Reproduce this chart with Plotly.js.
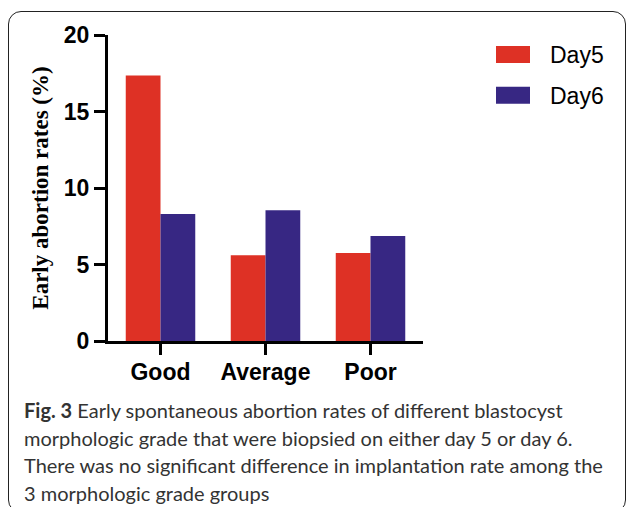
<!DOCTYPE html>
<html>
<head>
<meta charset="utf-8">
<script src="https://cdn.plot.ly/plotly-3.0.1.min.js"></script>
<style>
  html, body { margin: 0; padding: 0; background: #fff; overflow: hidden; }
  #wrap { position: relative; width: 629px; height: 507px; }
  #chart { position: absolute; left: 0; top: 0; width: 629px; height: 507px; }
  #frame { position: absolute; left: 8px; top: 11px; width: 616px; height: 500px;
           border: 1.6px solid #222; border-radius: 13px; pointer-events: none; }
</style>
</head>
<body>
<div id="wrap">
  <div id="chart"></div>
  <div id="frame"></div>
</div>
<script>
const categories = ["Good", "Average", "Poor"];
const day5 = [17.35, 5.6, 5.75];
const day6 = [8.3, 8.55, 6.87];
const seriesNames = ["Day5", "Day6"];
const yTicks = [0, 5, 10, 15, 20];
const yTitle = "Early abortion rates (%)";
const captionLines = [
  "<b>Fig. 3</b> Early spontaneous abortion rates of different blastocyst",
  "morphologic grade that were biopsied on either day 5 or day 6.",
  "There was no significant difference in implantation rate among the",
  "3 morphologic grade groups"
];

const RED = "#DE3125";
const BLUE = "#372783";
const tickFont = { family: "Liberation Sans, Arial, sans-serif", size: 23, color: "#000", weight: 700 };

const traces = [
  { type: "bar", name: seriesNames[0], legendgroup: "g1", x: categories, y: day5, marker: { color: RED, line: { width: 0 } }, hoverinfo: "skip" },
  { type: "bar", name: seriesNames[1], legendgroup: "g2", x: categories, y: day6, marker: { color: BLUE, line: { width: 0 } }, hoverinfo: "skip" }
];

// caption: one annotation per line (line pitch ~27.5px)
const captionTop = 410, captionPitch = 27.5;
const captionAnnotations = captionLines.map(function (t, i) {
  return {
    xref: "paper", yref: "paper", x: (22 - 108) / 315, y: (341 - (captionTop + i * captionPitch)) / 306,
    xanchor: "left", yanchor: "middle", align: "left", showarrow: false, text: t,
    font: { family: "Lato, Open Sans, sans-serif", size: 20, color: "#333" }
  };
});

const layout = {
  width: 629, height: 507,
  margin: { l: 108, r: 206, t: 35, b: 166, pad: 0 },
  paper_bgcolor: "rgba(0,0,0,0)", plot_bgcolor: "rgba(0,0,0,0)",
  barmode: "group", bargap: 0.338, bargroupgap: 0,
  showlegend: true,
  legend: {
    xref: "container", yref: "container", x: 509 / 629, y: 1 - 33 / 507, xanchor: "left", yanchor: "top",
    font: { family: "Liberation Sans, Arial, sans-serif", size: 23, color: "#000" },
    bgcolor: "rgba(0,0,0,0)", borderwidth: 0, tracegroupgap: 8, traceorder: "grouped"
  },
  xaxis: {
    type: "category", range: [-0.5, 2.5], showgrid: false, zeroline: false,
    showline: true, linewidth: 3, linecolor: "#000",
    ticks: "outside", ticklen: 11, tickwidth: 3, tickcolor: "#000",
    tickfont: tickFont, ticklabelstandoff: -3, fixedrange: true
  },
  yaxis: {
    range: [0, 20], tickvals: yTicks, ticktext: yTicks.map(String),
    showgrid: false, zeroline: false,
    showline: true, linewidth: 3, linecolor: "#000",
    ticks: "outside", ticklen: 11, tickwidth: 3, tickcolor: "#000",
    tickfont: tickFont, fixedrange: true,
    title: { text: "<b>" + yTitle + "</b>", font: { family: "Liberation Serif, Times New Roman, serif", size: 23, color: "#000" }, standoff: 9 }
  },
  annotations: captionAnnotations
};

Plotly.newPlot("chart", traces, layout, { displayModeBar: false, staticPlot: true }).then(function (gd) {
  // wide rectangular legend swatches (x 496..530) with labels starting at x=550, as in the reference
  gd.querySelectorAll(".legend [clip-path]").forEach(function (e) { e.removeAttribute("clip-path"); });
  gd.querySelectorAll(".legend .traces").forEach(function (tr) {
    const txt = tr.querySelector(".legendtext");
    const path = tr.querySelector(".legendpoints path");
    if (!txt || !path) return;
    const r0 = txt.getBoundingClientRect();
    txt.setAttribute("transform", "translate(" + (550 - r0.left) + ",0)");
    const r = txt.getBoundingClientRect();
    const cy = r.top + r.height / 2 - 1;
    path.removeAttribute("transform");
    const m = path.getScreenCTM();
    const x0 = 496 - m.e, x1 = 530 - m.e, y0 = cy - 8.5 - m.f, y1 = cy + 8.5 - m.f;
    path.setAttribute("d", "M" + x1 + "," + y1 + "H" + x0 + "V" + y0 + "H" + x1 + "Z");
  });
});
</script>
</body>
</html>
